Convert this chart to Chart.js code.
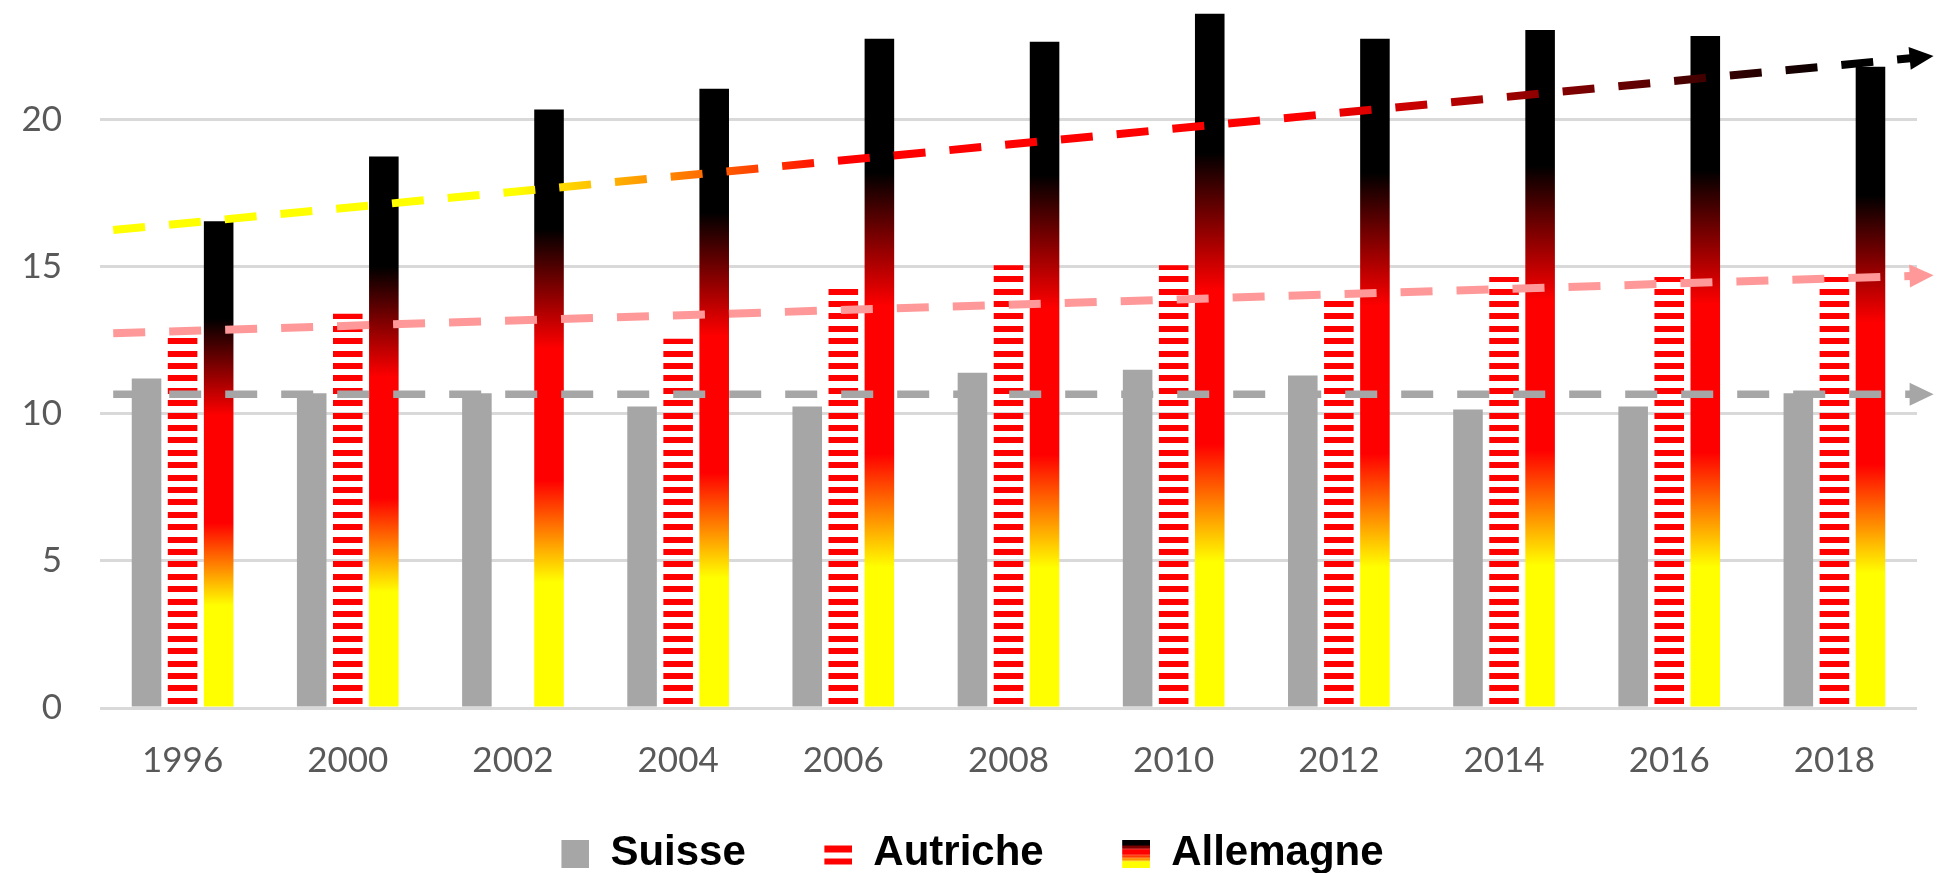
<!DOCTYPE html>
<html>
<head>
<meta charset="utf-8">
<script src="https://cdn.jsdelivr.net/npm/chart.js@4"></script>
<style>
  html, body { margin: 0; padding: 0; background: #fff; }
</style>
</head>
<body>
<canvas id="chart" width="1937" height="873"></canvas>
<script>
const years = ['1996', '2000', '2002', '2004', '2006', '2008', '2010', '2012', '2014', '2016', '2018'];
const suisse = [11.2, 10.7, 10.7, 10.25, 10.25, 11.4, 11.5, 11.3, 10.15, 10.25, 10.7];
const autriche = [12.75, 13.4, null, 12.55, 14.25, 15.05, 15.05, 13.85, 14.65, 14.65, 14.65];
const allemagne = [16.55, 18.75, 20.35, 21.05, 22.75, 22.65, 23.6, 22.75, 23.05, 22.85, 21.8];

// trend lines: start / end on the year index (0 = 1996), forecast a bit past 2018
const trendSpan = [-0.42, 10.54];
const suisseTrend = [10.67, 10.67];
const autricheTrend = [12.74, 14.7];
const allemagneTrend = [16.25, 22.13];

const yTicks = [0, 5, 10, 15, 20];
const yMax = 24.07;

const flagStops = [[0, '#ffff00'], [0.21, '#ffff00'], [0.38, '#ff0000'], [0.6, '#ff0000'], [0.8, '#000000'], [1, '#000000']];
const trendStops = [[0, '#ffff00'], [0.22, '#ffff00'], [0.4, '#ff0000'], [0.65, '#ff0000'], [0.95, '#000000'], [1, '#000000']];

const GREY = '#a6a6a6';
const PINK = '#ff9999';

function stripePattern() {
  const c = document.createElement('canvas');
  c.width = 8;
  c.height = 62;
  const g = c.getContext('2d');
  g.fillStyle = '#ff0000';
  for (let k = 0; k < 5; k++) g.fillRect(0, Math.round(3.3 + k * 12.4), 8, 6);
  return g.createPattern(c, 'repeat');
}

// legend icons: 28px blank on the left works as extra spacing between items
function icon(draw) {
  const c = document.createElement('canvas');
  c.width = 56;
  c.height = 28;
  const g = c.getContext('2d');
  g.translate(28, 0);
  draw(g);
  return c;
}

const iconSuisse = icon((g) => {
  g.fillStyle = GREY;
  g.fillRect(0, 0, 28, 28);
});
const iconAutriche = icon((g) => {
  g.fillStyle = '#ff0000';
  g.fillRect(0, 6, 28, 7);
  g.fillRect(0, 19, 28, 6);
});
const iconAllemagne = icon((g) => {
  [['#000000', 0, 6], ['#7a0000', 6, 9.5], ['#ff0000', 9.5, 15.5], ['#ff3a00', 15.5, 18.5], ['#ff9000', 18.5, 21.5], ['#ffff00', 21.5, 28]]
    .forEach(([col, a, b]) => {
      g.fillStyle = col;
      g.fillRect(0, a, 28, b - a);
    });
});

const legendItems = [
  { text: 'Suisse', pointStyle: iconSuisse, fillStyle: GREY, strokeStyle: 'rgba(0,0,0,0)', lineWidth: 0, hidden: false, datasetIndex: 0, fontColor: '#000' },
  { text: 'Autriche', pointStyle: iconAutriche, fillStyle: '#ff0000', strokeStyle: 'rgba(0,0,0,0)', lineWidth: 0, hidden: false, datasetIndex: 1, fontColor: '#000' },
  { text: 'Allemagne', pointStyle: iconAllemagne, fillStyle: '#000', strokeStyle: 'rgba(0,0,0,0)', lineWidth: 0, hidden: false, datasetIndex: 2, fontColor: '#000' },
];

function flagGradient(c) {
  const chart = c.chart;
  if (c.type !== 'data' || !chart.chartArea || c.raw == null || c.raw.y == null) return '#ff0000';
  const y = chart.scales.y;
  const g = chart.ctx.createLinearGradient(0, y.getPixelForValue(0), 0, y.getPixelForValue(c.raw.y));
  flagStops.forEach(([o, col]) => g.addColorStop(o, col));
  return g;
}

function trendGradient(c) {
  const chart = c.chart;
  const xs = chart.scales.x;
  if (!chart.chartArea || !xs) return '#ffff00';
  const x0 = xs.getPixelForValue(trendSpan[0]);
  const x1 = xs.getPixelForValue(trendSpan[1]);
  const g = chart.ctx.createLinearGradient(x0, 0, x1 + 10, 0);
  trendStops.forEach(([o, col]) => g.addColorStop(o, col));
  return g;
}

// bars and trend lines share one linear x axis (year index) so the bars group in 3 slots
const barPoints = (vals) => vals.map((v, i) => ({ x: i, y: v }));
const trendPoints = (vals) => trendSpan.map((x, i) => ({ x: x, y: vals[i] }));

// arrow heads at the end of the trend lines
const arrowHeads = {
  id: 'arrowHeads',
  afterDatasetsDraw(chart) {
    const ctx = chart.ctx;
    chart.data.datasets.forEach((ds, i) => {
      if (!ds.arrowColor) return;
      const pts = chart.getDatasetMeta(i).data;
      const a = pts[pts.length - 2];
      const b = pts[pts.length - 1];
      const len = Math.hypot(b.x - a.x, b.y - a.y);
      const ux = (b.x - a.x) / len;
      const uy = (b.y - a.y) / len;
      const tipX = b.x + ux * 10, tipY = b.y + uy * 10;
      const baseX = b.x - ux * 14, baseY = b.y - uy * 14;
      ctx.save();
      ctx.fillStyle = ds.arrowColor;
      ctx.beginPath();
      ctx.moveTo(tipX, tipY);
      ctx.lineTo(baseX - uy * 11.5, baseY + ux * 11.5);
      ctx.lineTo(baseX + uy * 11.5, baseY - ux * 11.5);
      ctx.closePath();
      ctx.fill();
      ctx.restore();
    });
  },
};

const barOpts = { type: 'bar', order: 1, categoryPercentage: 0.655, barPercentage: 0.82, borderWidth: 0 };
const lineOpts = { type: 'line', order: 0, borderWidth: 8, borderDash: [32, 24], borderCapStyle: 'butt', pointRadius: 0, tension: 0, clip: false, fill: false };

new Chart(document.getElementById('chart'), {
  type: 'bar',
  data: {
    datasets: [
      { ...barOpts, label: 'Suisse', data: barPoints(suisse), backgroundColor: GREY },
      { ...barOpts, label: 'Autriche', data: barPoints(autriche), backgroundColor: stripePattern() },
      { ...barOpts, label: 'Allemagne', data: barPoints(allemagne), backgroundColor: flagGradient },
      { ...lineOpts, label: 'Tendance Suisse', data: trendPoints(suisseTrend), borderColor: GREY, borderWidth: 7.5, arrowColor: GREY },
      { ...lineOpts, label: 'Tendance Autriche', data: trendPoints(autricheTrend), borderColor: PINK, arrowColor: PINK },
      { ...lineOpts, label: 'Tendance Allemagne', data: trendPoints(allemagneTrend), borderColor: trendGradient, arrowColor: '#000000' },
    ],
  },
  options: {
    responsive: false,
    animation: false,
    events: [],
    layout: { padding: { top: 0, left: 0, right: 20, bottom: -11.5 } },
    plugins: {
      tooltip: { enabled: false },
      legend: {
        position: 'bottom',
        labels: {
          usePointStyle: true,
          pointStyleWidth: 56,
          padding: 50.5,
          color: '#000',
          font: { family: 'Liberation Sans', size: 42, weight: 'bold' },
          generateLabels: () => legendItems,
        },
      },
    },
    scales: {
      x: {
        type: 'linear',
        min: -0.5,
        max: years.length - 0.5,
        offset: false,
        afterBuildTicks(s) { s.ticks = years.map((_, i) => ({ value: i })); },
        grid: { display: false, drawTicks: false, offset: false },
        border: { display: false },
        ticks: {
          color: '#595959',
          font: { family: 'Lato', size: 35 },
          padding: 32,
          maxRotation: 0,
          autoSkip: false,
          callback: (v) => years[v],
        },
        afterFit(s) { s.height = 74; s.paddingLeft = 0; s.paddingRight = 0; },
      },
      y: {
        min: 0,
        max: yMax,
        afterBuildTicks(s) { s.ticks = yTicks.map((v) => ({ value: v })); },
        grid: { color: '#d9d9d9', lineWidth: 3, drawTicks: false },
        border: { display: false },
        ticks: { color: '#595959', font: { family: 'Lato', size: 35 }, padding: 38 },
        afterFit(s) { s.width = 100; s.paddingTop = 0; s.paddingBottom = 0; },
      },
    },
  },
  plugins: [arrowHeads],
});
</script>
</body>
</html>
